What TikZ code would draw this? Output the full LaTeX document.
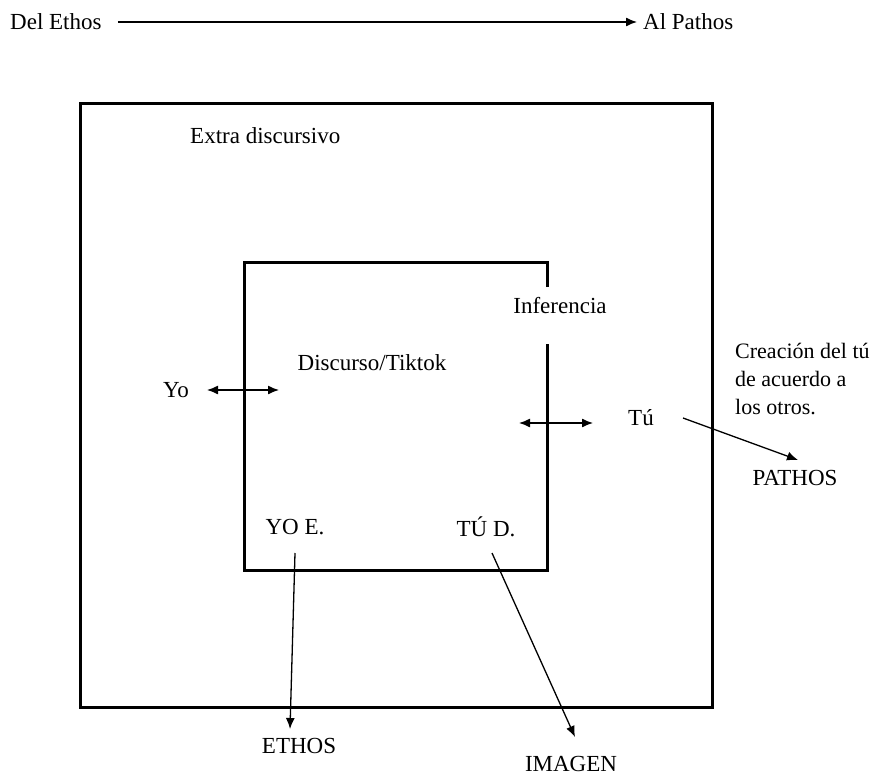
\documentclass[tikz,border=0pt]{standalone}
\usepackage{fontspec}
\setmainfont{Liberation Serif}
\usetikzlibrary{arrows.meta}
\begin{document}
\begin{tikzpicture}[x=1pt,y=-1pt,
  lbl/.style={inner sep=0pt,font=\fontsize{23}{27}\selectfont},
  boxline/.style={line width=3pt},
  conn/.style={line width=1.3pt,-{Latex[length=11pt,width=9pt]}},
  dconn/.style={line width=1.3pt,{Latex[length=11pt,width=9pt]}-{Latex[length=11pt,width=9pt]}}]
\useasboundingbox (0,0) rectangle (882,778);
% top
\node[lbl,anchor=west] (del) at (10,22) {Del Ethos};
\node[lbl,anchor=west] (al) at (643,22) {Al Pathos};
\draw[conn] ([xshift=16pt]del.east) -- ([xshift=-6pt]al.west);
% outer box
\draw[boxline] (80,104) rectangle (712,707);
\node[lbl,anchor=west] (extra) at (190,136) {Extra discursivo};
% inner box with gap
\coordinate (gtop) at (547,287);
\coordinate (gbot) at (547,344);
\draw[boxline] (gtop) -- (547,262) -- (244,262) -- (244,570) -- (547,570) -- (gbot);
\node[lbl] (inf) at (560,306) {Inferencia};
\node[lbl] (disc) at (372,363) {Discurso/Tiktok};
% Yo
\node[lbl] (yo) at (176,390) {Yo};
\coordinate (yoA) at (207,390);
\coordinate (yoB) at (279,390);
\draw[dconn] (yoA) -- (yoB);
% Tu
\node[lbl] (tu) at (641,418) {Tú};
\coordinate (tuA) at (519,423);
\coordinate (tuB) at (593,423);
\draw[dconn] (tuA) -- (tuB);
\node[lbl,anchor=north west,align=left,font=\fontsize{22}{28}\selectfont] (crea) at (735,343) {Creación del tú\\de acuerdo a\\los otros.};
\node[lbl] (pathos) at (795,478) {PATHOS};
\coordinate (tuS) at (683,418);
\draw[conn] (tuS) -- (798,460);
% bottom labels
\node[lbl] (yoe) at (295,527) {YO E.};
\node[lbl] (tud) at (486,527) {TÚ D.};
\node[lbl] (ethos) at (299,746) {ETHOS};
\node[lbl] (imagen) at (571,764) {IMAGEN};
\coordinate (yoeS) at (295,553);
\coordinate (tudS) at (492,553);
\draw[conn] (yoeS) -- (290,729);
\draw[conn] (tudS) -- (575,737);
\end{tikzpicture}
\end{document}
